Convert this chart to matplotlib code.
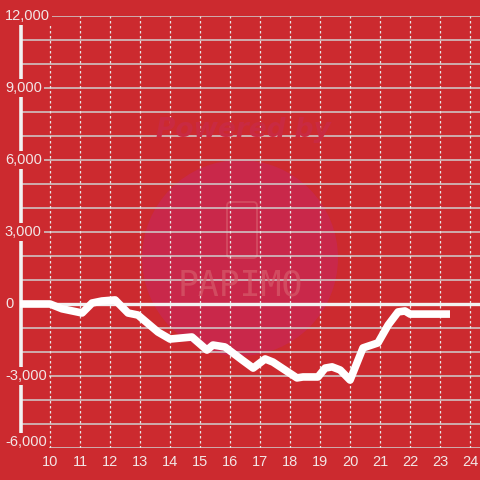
import matplotlib
matplotlib.use("Agg")
import matplotlib.pyplot as plt
from matplotlib.patches import Circle, FancyBboxPatch

# data
hours = [9.0, 10.0, 10.4, 11.07, 11.4, 11.73, 12.17, 12.6, 12.93, 13.6, 14.0,
         14.73, 15.23, 15.43, 15.83, 16.4, 16.77, 17.17, 17.43, 18.23, 18.43,
         18.93, 19.17, 19.4, 19.67, 20.0, 20.43, 20.93, 21.27, 21.6, 21.83,
         22.0, 23.33]
balance = [0, 0, -200, -375, 40, 125, 170, -375, -460, -1170, -1460,
           -1375, -1920, -1710, -1790, -2330, -2670, -2290, -2420, -3080, -3040,
           -3040, -2670, -2620, -2750, -3170, -1830, -1620, -875, -330, -290,
           -420, -420]
x_ticks = list(range(10, 25))
y_labels = [12000, 9000, 6000, 3000, 0, -3000, -6000]

bg = "#cc2a2f"
fg = "#f2e6e6"

fig = plt.figure(figsize=(4.8, 4.8), dpi=100, facecolor=bg)
ax = fig.add_axes([21 / 480, 32 / 480, 459 / 480, 432 / 480])
ax.set_facecolor(bg)
ax.set_xlim(9.033, 24.33)
ax.set_ylim(-6000, 12000)

# watermark
ax.add_patch(Circle((240 / 480, 1 - 258 / 480), 98 / 480, transform=fig.transFigure,
                    facecolor="#c9284a", edgecolor="none", zorder=0))
fig.text(243 / 480, 1 - 130 / 480, "Powered by", color="#c92a42", fontsize=19,
         fontweight="bold", fontstyle="italic", ha="center", va="center", zorder=1)
fig.text(240 / 480, 1 - 286 / 480, "PAPIMO", color="#d65a6a", fontsize=25,
         family="DejaVu Sans Mono", ha="center", va="center", zorder=1, alpha=0.7)
ax.add_patch(FancyBboxPatch((227 / 480, 1 - 258 / 480), 30 / 480, 56 / 480,
                            boxstyle="round,pad=0,rounding_size=0.008",
                            transform=fig.transFigure, facecolor="none",
                            edgecolor="#d65a6a", lw=1.3, alpha=0.7, zorder=1))

# grid
for v in range(-6000, 12001, 1000):
    ax.axhline(v, color="#cfcfcf", lw=1.1, zorder=2)
for h in x_ticks:
    ax.axvline(h, color="#e6e6e6", lw=0.9, ls=(0, (2, 2)), zorder=2)
ax.axhline(0, color="#f2f2f2", lw=2.4, zorder=3)

ax.plot(hours, balance, color="white", lw=5.5, solid_capstyle="butt",
        solid_joinstyle="round", zorder=4, clip_on=False)

for s in ["top", "right", "bottom"]:
    ax.spines[s].set_visible(False)
ax.spines["left"].set_color("#f2f2f2")
ax.spines["left"].set_linewidth(2.6)
ax.spines["left"].set_zorder(3)

ax.set_yticks([])
ax.set_xticks(x_ticks)
ax.tick_params(axis="x", length=0, colors=fg, labelsize=10.5, pad=5)
for lab in ax.get_xticklabels():
    lab.set_family("Liberation Sans")

for v in y_labels:
    yy = v if v > -6000 else -5750
    ax.text(-0.035, yy, f"{v:,}", transform=ax.get_yaxis_transform(),
            ha="left", va="center", color=fg, fontsize=10.5,
            family="Liberation Sans", zorder=6, clip_on=False,
            bbox=dict(facecolor=bg, edgecolor="none", pad=1.5))

fig.savefig("out.png", dpi=100, facecolor=bg)
